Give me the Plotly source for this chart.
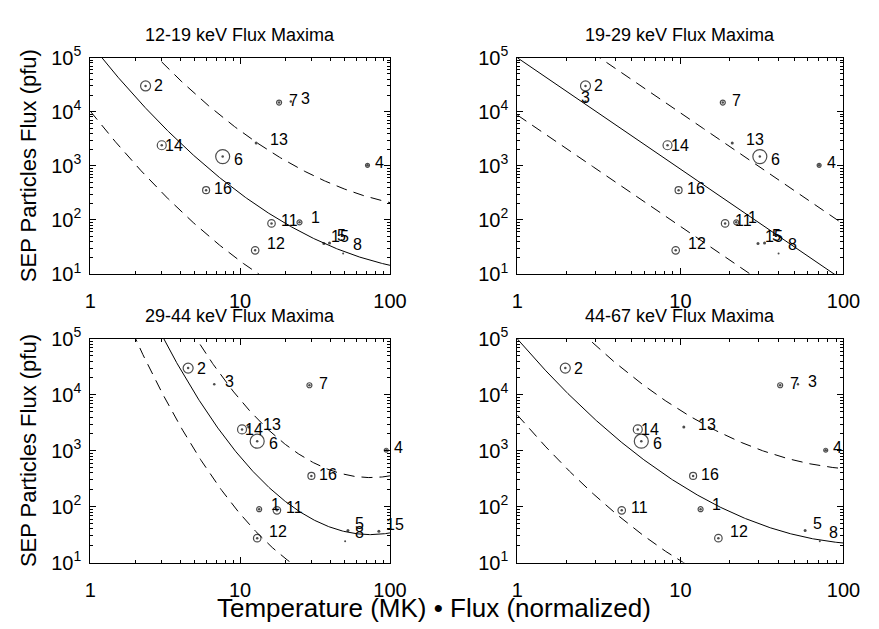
import numpy as np
import plotly.graph_objects as go

# ---- data -------------------------------------------------------------
events = ["1", "2", "3", "4", "5", "6", "7", "8", "11", "12", "13", "14", "15", "16"]

# SEP peak particle flux (pfu), same for every energy channel
sep_flux = [90, 3.0e4, 1.55e4, 1.02e3, 37.5, 1.48e3, 1.48e4, 24, 86, 27.3,
            2.65e3, 2.4e3, 36.5, 355]

# Temperature (MK) x normalized flux, one list per energy channel
x_12_19 = [24.9, 2.34, 21.8, 70.8, 39.5, 7.65, 18.2, 48.7, 16.2, 12.6, 12.8, 3.0, 36.2, 5.93]
x_19_29 = [22.0, 2.62, 2.62, 70.9, 32.8, 30.7, 18.2, 40.0, 18.8, 9.36, 20.8, 8.34, 29.9, 9.75]
x_29_44 = [13.4, 4.5, 6.72, 94.4, 52.4, 13.0, 29.0, 50.2, 17.6, 13.0, 11.4, 10.3, 84.3, 29.9]
x_44_67 = [13.3, 1.97, 52.6, 77.8, 58.2, 5.76, 40.9, 71.6, 4.37, 17.1, 10.5, 5.48, None, 11.97]

titles = ["12-19 keV Flux Maxima", "19-29 keV Flux Maxima",
          "29-44 keV Flux Maxima", "44-67 keV Flux Maxima"]

# log-log fits: log10(F) = a + b*log10(X) + c*log10(X)^2
fit_a = [5.262, 5.0, 7.927, 5.0]
fit_b = [-3.497, -2.06, -6.874, -3.395]
fit_c = [0.723, 0.0, 1.838, 0.785]
# dashed envelope above / below the fit, in decades
band_up = [1.16, 1.04, 1.02, 1.33]
band_down = [1.25, 1.06, 1.02, 1.36]

x_tick_vals = [1, 10, 100]
x_tick_text = ["1", "10", "100"]
y_tick_vals = [1e1, 1e2, 1e3, 1e4, 1e5]
y_tick_text = ["10<sup>1</sup>", "10<sup>2</sup>", "10<sup>3</sup>", "10<sup>4</sup>", "10<sup>5</sup>"]

# ---- styling ----------------------------------------------------------
FONT = "Liberation Sans, Arial, Helvetica, sans-serif"
W, H = 879, 629

# marker look per event: ring diameter (0 = bare dot) and centre dot size
ring_size = {"1": 5, "2": 10, "3": 0, "4": 4, "5": 0, "6": 14, "7": 5, "8": 0,
             "11": 7.5, "12": 7.5, "13": 0, "14": 9, "15": 0, "16": 7}
dot_size = {"1": 2.5, "2": 2.5, "3": 2.5, "4": 2.5, "5": 3, "6": 2.5, "7": 2.5, "8": 2,
            "11": 2.5, "12": 2.5, "13": 3, "14": 2.5, "15": 3, "16": 2.5}
# label nudge in pixels (right, up) from each point
label_shift = {
    "1": (16, 4.5), "2": (13, 0), "3": (15, 3), "4": (12, 3), "5": (12, 7),
    "6": (16, -2.5), "7": (14, 2), "8": (14, 9), "11": (18, 3), "12": (21, 7),
    "13": (23, 3), "14": (12, 0), "15": (16, 7), "16": (17, 1.5),
}
label_shift_panel = {(1, "3"): (0, 4)}

# plot boxes in pixels: (left, right), (top, bottom)
box_x = [(86.5, 394.3), (525, 860), (86.5, 394.3), (525, 860)]
box_y = [(45.5, 270.7), (45.5, 270.7), (338.3, 571.3), (338.3, 571.3)]

minor_x = [v * d for d in (1, 10) for v in range(2, 10)]
minor_y = [v * d for d in (10, 100, 1000, 10000) for v in range(2, 10)]

panels_x = [x_12_19, x_19_29, x_29_44, x_44_67]

fig = go.Figure()
annotations = []

for i in range(4):
    sfx = "" if i == 0 else str(i + 1)
    xa, ya = "x" + sfx, "y" + sfx
    xs = panels_x[i]

    # fitted trend and its envelope
    u = np.linspace(0, 2, 400)
    v = fit_a[i] + fit_b[i] * u + fit_c[i] * u ** 2
    fig.add_trace(go.Scatter(x=10 ** u, y=10 ** v, mode="lines",
                             line=dict(color="black", width=1),
                             xaxis=xa, yaxis=ya, hoverinfo="skip"))
    for off in (band_up[i], -band_down[i]):
        fig.add_trace(go.Scatter(x=10 ** u, y=10 ** (v + off), mode="lines",
                                 line=dict(color="black", width=1, dash="11px,7px"),
                                 xaxis=xa, yaxis=ya, hoverinfo="skip"))

    # events: open rings plus centre dots
    rx, ry, rs = [], [], []
    px, py, ps, names = [], [], [], []
    for ev, xv, yv in zip(events, xs, sep_flux):
        if xv is None:
            continue
        if ring_size[ev] > 0:
            rx.append(xv)
            ry.append(yv)
            rs.append(ring_size[ev])
        px.append(xv)
        py.append(yv)
        ps.append(dot_size[ev])
        names.append(ev)
        sx, sy = label_shift_panel.get((i, ev), label_shift[ev])
        annotations.append(dict(
            x=np.log10(xv), y=np.log10(yv), xref=xa, yref=ya, text=ev,
            showarrow=False, xanchor="center", yanchor="middle",
            xshift=sx, yshift=sy, font=dict(family=FONT, size=16, color="black")))
    fig.add_trace(go.Scatter(x=rx, y=ry, mode="markers",
                             marker=dict(symbol="circle-open", size=rs, color="black",
                                         line=dict(color="black", width=1.2)),
                             xaxis=xa, yaxis=ya, hoverinfo="skip"))
    fig.add_trace(go.Scatter(x=px, y=py, mode="markers", text=names,
                             marker=dict(symbol="circle", size=ps, color="black",
                                         line=dict(width=0)),
                             xaxis=xa, yaxis=ya))

    axis_common = dict(
        type="log", showline=True, linecolor="black", linewidth=1, mirror="allticks",
        ticks="inside", ticklen=6, tickwidth=1, tickcolor="black",
        showgrid=False, zeroline=False,
        tickfont=dict(family=FONT, size=20, color="black"),
    )
    (l, r), (t, b) = box_x[i], box_y[i]
    fig.update_layout(**{
        "xaxis" + sfx: dict(
            axis_common, range=[0, 2], domain=[l / W, r / W], anchor=ya,
            tickmode="array", tickvals=x_tick_vals, ticktext=x_tick_text,
            ticklabelstandoff=9,
            minor=dict(ticks="inside", ticklen=3, tickwidth=1, tickcolor="black",
                       tickmode="array", tickvals=minor_x, showgrid=False)),
        "yaxis" + sfx: dict(
            axis_common, range=[1, 5], domain=[1 - b / H, 1 - t / H], anchor=xa,
            tickmode="array", tickvals=y_tick_vals, ticktext=y_tick_text,
            ticklabelstandoff=4,
            minor=dict(ticks="inside", ticklen=3, tickwidth=1, tickcolor="black",
                       tickmode="array", tickvals=minor_y, showgrid=False)),
    })

    annotations.append(dict(
        x=(l + r) / 2 / W, y=1 - (t - 24) / H, xref="paper", yref="paper",
        text=titles[i], showarrow=False, xanchor="center", yanchor="middle",
        font=dict(family=FONT, size=18, color="black")))

for (t, b) in (box_y[0], box_y[2]):
    annotations.append(dict(
        x=23 / W, y=1 - (t + b) / 2 / H, xref="paper", yref="paper",
        text="SEP Particles Flux (pfu)", textangle=-90, showarrow=False,
        xanchor="center", yanchor="middle",
        font=dict(family=FONT, size=22, color="black")))

annotations.append(dict(
    x=0.5, y=1 - 619 / H, xref="paper", yref="paper",
    text="Temperature (MK) \u2022 Flux (normalized)", showarrow=False,
    xanchor="center", yanchor="middle",
    font=dict(family=FONT, size=26, color="black")))

fig.update_layout(
    width=W, height=H, autosize=False,
    margin=dict(l=0, r=0, t=0, b=0),
    paper_bgcolor="white", plot_bgcolor="white",
    showlegend=False, annotations=annotations,
)

fig.write_html("out.html")
